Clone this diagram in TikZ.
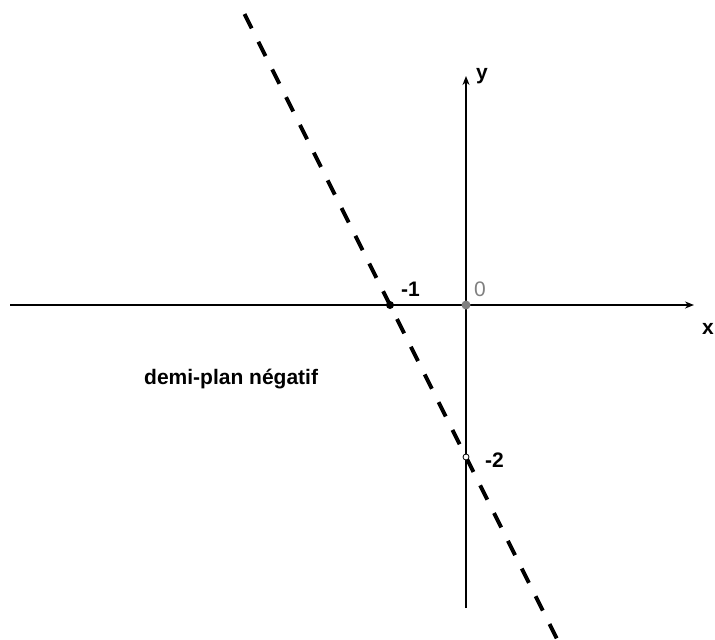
\documentclass[tikz,border=0pt]{standalone}
\usepackage{fontspec}
\setmainfont{Liberation Sans}
\usetikzlibrary{arrows.meta}
\begin{document}
\begin{tikzpicture}[x=1pt,y=-1pt,
  axis/.style={line width=1.6pt,draw=black,-{Stealth[length=9pt,width=7pt]}},
  lab/.style={font=\fontsize{21}{21}\selectfont\bfseries,inner sep=0pt,anchor=base west},
  dline/.style={line width=4pt,dash pattern=on 16pt off 15pt},
]
\useasboundingbox (0,0) rectangle (715,640);
\coordinate (O) at (466,305);
\coordinate (xl) at (10,305);
\coordinate (xr) at (694,305);
\coordinate (yb) at (466,608);
\coordinate (yt) at (466,76);
\coordinate (P1) at (390,305);
\coordinate (P2) at (466,457);
\coordinate (dtop) at (244.5,14);
\coordinate (dbot) at (557.5,640);
\draw[axis] (xl) -- (xr);
\draw[axis] (yb) -- (yt);
\draw[dline] (dtop) -- (dbot);
\fill[gray] (O) circle (4.5pt);
\fill[black] (P1) circle (4pt);
\draw[black,fill=white,line width=0.8pt] (P2) circle (3pt);
\node[lab] (l1) at (401,296) {-1};
\node[lab,text=gray,font=\fontsize{21}{21}\selectfont] (l0) at (474,296) {0};
\node[lab] (l2) at (485,467) {-2};
\node[lab] (ly) at (476,79) {y};
\node[lab] (lx) at (702,334) {x};
\node[lab] (lt) at (144,384) {demi-plan négatif};
\end{tikzpicture}
\end{document}
